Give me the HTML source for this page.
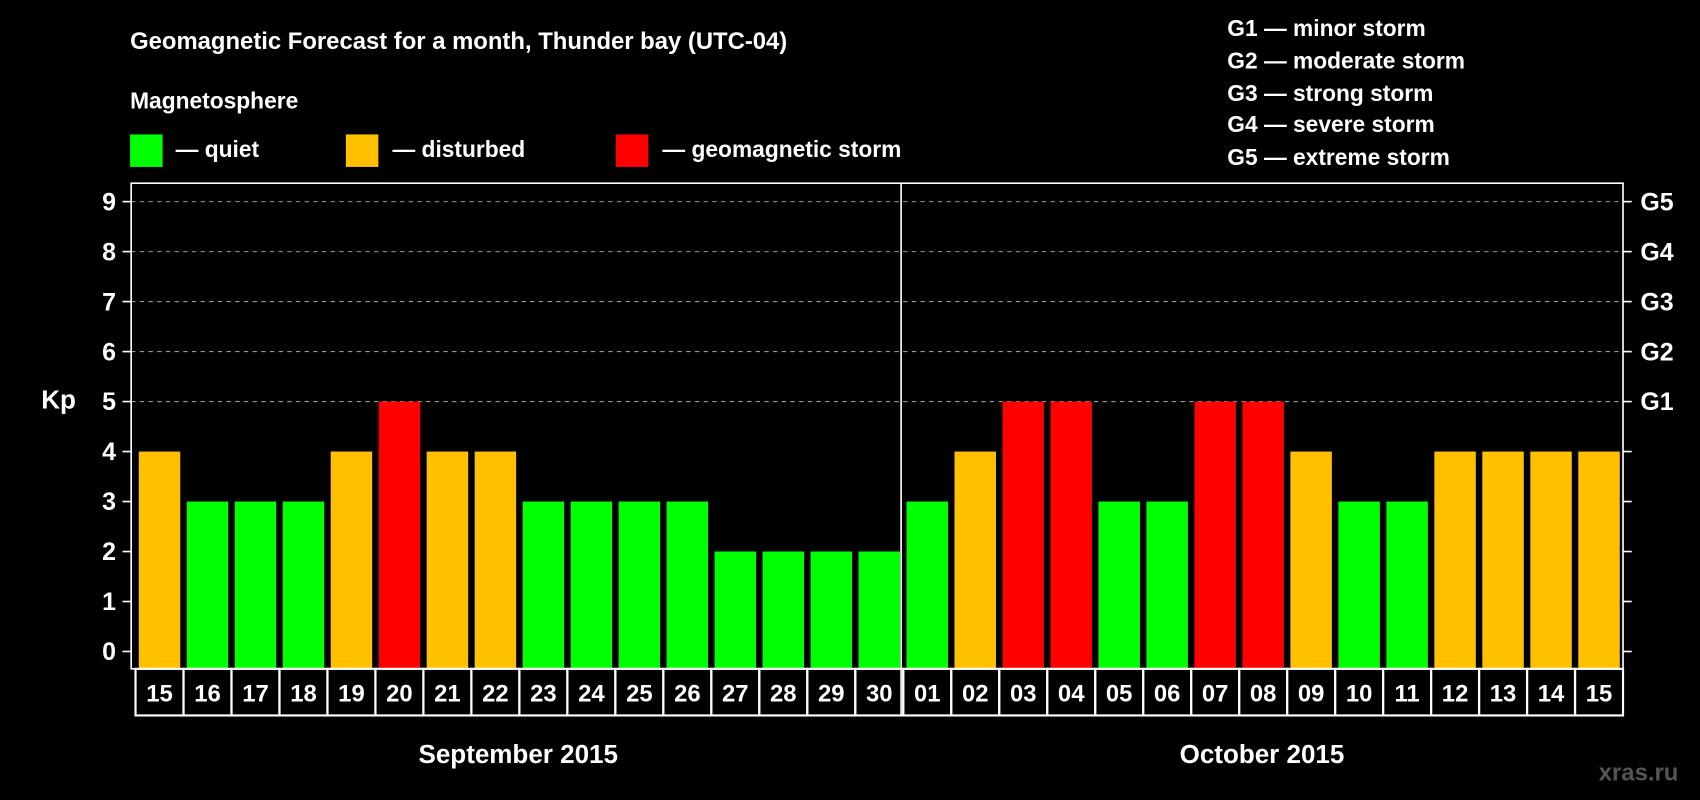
<!DOCTYPE html>
<html><head><meta charset="utf-8"><style>
html,body{margin:0;padding:0;background:#000;}
svg{display:block;font-family:"Liberation Sans",sans-serif;font-weight:bold;}
</style></head><body>
<svg id="chart" width="1700" height="800" viewBox="0 0 1568 738" preserveAspectRatio="none" xmlns="http://www.w3.org/2000/svg">
<rect width="1568" height="738" fill="#000"/>
<text x="120" y="45" fill="#fff" font-size="22">Geomagnetic Forecast for a month, Thunder bay (UTC-04)</text>
<text x="120" y="100" fill="#fff" font-size="21">Magnetosphere</text>
<g><rect x="120" y="124" width="30" height="30" fill="#00ff00"/><text x="162" y="145" fill="#fff" font-size="21">— quiet</text></g>
<g><rect x="319" y="124" width="30" height="30" fill="#ffc000"/><text x="362" y="145" fill="#fff" font-size="21">— disturbed</text></g>
<g><rect x="568" y="124" width="30" height="30" fill="#ff0000"/><text x="611" y="145" fill="#fff" font-size="21">— geomagnetic storm</text></g>
<g fill="#fff" font-size="21">
<text x="1132" y="33">G1 — minor storm</text>
<text x="1132" y="63">G2 — moderate storm</text>
<text x="1132" y="93">G3 — strong storm</text>
<text x="1132" y="122">G4 — severe storm</text>
<text x="1132" y="152">G5 — extreme storm</text>
</g>
<g id="grid"></g>
<g id="bars"></g>
<g id="axes"></g>
<text x="38" y="377" fill="#fff" font-size="24">Kp</text>
<text x="478" y="704" fill="#fff" font-size="24" text-anchor="middle">September 2015</text>
<text x="1164" y="704" fill="#fff" font-size="24" text-anchor="middle">October 2015</text>
<text x="1548" y="720" fill="#555" font-size="22" text-anchor="end">xras.ru</text>
</svg>
<script>
const days = ["15","16","17","18","19","20","21","22","23","24","25","26","27","28","29","30","01","02","03","04","05","06","07","08","09","10","11","12","13","14","15"];
const kpValues = [4,3,3,3,4,5,4,4,3,3,3,3,2,2,2,2,3,4,5,5,3,3,5,5,4,3,3,4,4,4,4];
const yTicks = [0,1,2,3,4,5,6,7,8,9];
const gLabels = ["G1","G2","G3","G4","G5"];
const NS="http://www.w3.org/2000/svg";
const L=121, R=1497, T=169, B=617, X0=125, pitch=(1497-125)/31;
const y = v => 601 - v*(601-186)/9;
const x = i => X0 + i*pitch;
function mk(tag, attrs, parent){const e=document.createElementNS(NS,tag);for(const k in attrs)e.setAttribute(k,attrs[k]);parent.appendChild(e);return e;}
const grid=document.getElementById('grid'), bars=document.getElementById('bars'), axes=document.getElementById('axes');
yTicks.forEach(v=>{
  if(v>=5){const gl=mk('line',{x1:L,x2:R,y1:y(v),y2:y(v),stroke:'#999','stroke-dasharray':'4,4','stroke-width':1},grid);
  
  }
  mk('line',{x1:L-8,x2:L,y1:y(v),y2:y(v),stroke:'#fff','stroke-width':1.5},axes);
  mk('line',{x1:R,x2:R+8,y1:y(v),y2:y(v),stroke:'#fff','stroke-width':1.5},axes);
  const t=mk('text',{x:L-14,y:y(v)+8,fill:'#fff','font-size':23,'text-anchor':'end'},axes);
  t.textContent=v;
  
  
});
gLabels.forEach((g,i)=>{
  const t=mk('text',{x:R+16,y:y(5+i)+8,fill:'#fff','font-size':23},axes);
  t.textContent=g;
  
  
});
kpValues.forEach((v,i)=>{
  const c=v>=5?'#ff0000':(v>=4?'#ffc000':'#00ff00');
  const r=mk('rect',{x:x(i)+3,y:y(v),width:pitch-6,height:B-y(v),fill:c},bars);
  
  
});
days.forEach((d,i)=>{
  mk('rect',{x:x(i),y:B,width:pitch,height:43,fill:'none',stroke:'#fff','stroke-width':2},axes);
  const t=mk('text',{x:x(i)+pitch/2,y:B+30,fill:'#fff','font-size':22,'text-anchor':'middle'},axes);
  t.textContent=d;
  
  
});
const frame=mk('rect',{x:L,y:T,width:R-L,height:B-T,fill:'none',stroke:'#fff','stroke-width':1.5},axes);


const div=mk('line',{x1:x(16)-2,x2:x(16)-2,y1:T,y2:B+43,stroke:'#fff','stroke-width':1.5},axes);


</script>
</body></html>
